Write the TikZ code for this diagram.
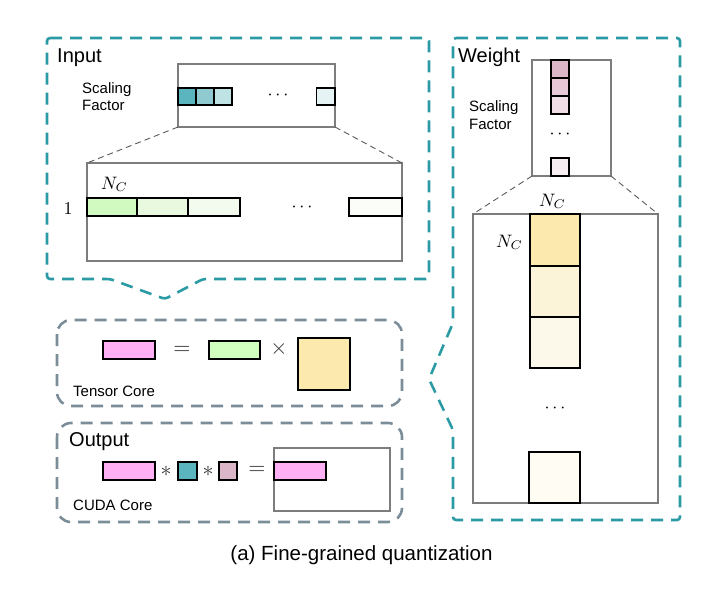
\documentclass[tikz,border=0pt]{standalone}
\usepackage{graphicx}
\usepackage[no-math]{fontspec}
\setmainfont{Liberation Sans}
\definecolor{tealc}{RGB}{42,154,165}
\definecolor{greyc}{RGB}{123,141,153}
\definecolor{framec}{RGB}{125,125,125}
\definecolor{zoomc}{RGB}{90,90,90}
\definecolor{tA}{RGB}{91,181,190}
\definecolor{tB}{RGB}{142,202,208}
\definecolor{tC}{RGB}{191,226,229}
\definecolor{tD}{RGB}{230,243,244}
\definecolor{gA}{RGB}{208,250,192}
\definecolor{gB}{RGB}{232,249,224}
\definecolor{gC}{RGB}{243,251,239}
\definecolor{gD}{RGB}{251,253,248}
\definecolor{mA}{RGB}{219,182,200}
\definecolor{mB}{RGB}{230,200,214}
\definecolor{mC}{RGB}{240,221,230}
\definecolor{mD}{RGB}{247,238,242}
\definecolor{yA}{RGB}{252,233,174}
\definecolor{yB}{RGB}{252,244,216}
\definecolor{yC}{RGB}{253,249,234}
\definecolor{yD}{RGB}{254,252,243}
\definecolor{pinkc}{RGB}{255,176,245}
\definecolor{greenc}{RGB}{208,255,192}
\definecolor{symc}{RGB}{50,50,50}
\newcommand{\mymath}[1]{\scalebox{1.8}{$#1$}}
\newcommand{\mysym}[1]{\scalebox{2.2}{$#1$}}
\tikzset{
  tealbox/.style={draw=tealc, line width=2.6pt, dash pattern=on 12pt off 8pt, rounded corners=3pt},
  greybox/.style={draw=greyc, line width=2.6pt, dash pattern=on 12pt off 8pt, rounded corners=14pt},
  frame/.style={draw=framec, line width=1.2pt, inner sep=0pt, outer sep=0pt, anchor=north west},
  cell/.style={draw=black, line width=1.2pt, inner sep=0pt, outer sep=0pt, anchor=north west},
  zoomline/.style={draw=zoomc, line width=0.9pt, dash pattern=on 6pt off 4pt},
  title/.style={font=\fontsize{20}{24}\selectfont, anchor=base west, inner sep=0pt},
  small/.style={font=\fontsize{15}{17.5}\selectfont, align=left, anchor=west, inner sep=0pt},
  smallb/.style={font=\fontsize{15}{17.5}\selectfont, anchor=base west, inner sep=0pt},
  mathlbl/.style={inner sep=0pt, anchor=base},
  symlbl/.style={inner sep=0pt, anchor=base, text=symc},
}
\begin{document}
\begin{tikzpicture}[x=1pt, y=-1pt]
\useasboundingbox (0,0) rectangle (720,590);

% outer teal dashed regions
\draw[tealbox] (47,38) -- (429,38) -- (429,279) -- (203,279) -- (165,299) -- (110,279) -- (47,279) -- cycle;
\draw[tealbox] (453,38) -- (680,38) -- (680,520) -- (453,520) -- (453,430) -- (429,379) -- (453,323) -- cycle;

% ---------- Input ----------
\node[title] (inputlbl) at (57,62) {Input};
\node[small] (isflbl) at (82,96.5) {Scaling\\Factor};
\node[frame, minimum width=157pt, minimum height=63pt] (isf) at (178,64) {};
\node[cell, fill=tA, minimum width=18pt, minimum height=17pt] (ic1) at (178,88) {};
\node[cell, fill=tB, minimum width=18pt, minimum height=17pt] (ic2) at (196,88) {};
\node[cell, fill=tC, minimum width=18pt, minimum height=17pt] (ic3) at (214,88) {};
\node[cell, fill=tD, minimum width=18.5pt, minimum height=17pt] (ic4) at (316.5,88) {};
\node[mathlbl] (idots1) at (278,99.5) {\mymath{\cdots}};

\node[frame, minimum width=315pt, minimum height=98pt] (ibig) at (87,163) {};
\draw[zoomline] (isf.south west) -- (ibig.north west);
\draw[zoomline] (isf.south east) -- (ibig.north east);
\node[cell, fill=gA, minimum width=50pt, minimum height=18pt] (ig1) at (87,198) {};
\node[cell, fill=gB, minimum width=51pt, minimum height=18pt] (ig2) at (137,198) {};
\node[cell, fill=gC, minimum width=52pt, minimum height=18pt] (ig3) at (188,198) {};
\node[cell, fill=gD, minimum width=53pt, minimum height=18pt] (ig4) at (349,198) {};
\node[mathlbl] (ione) at (68,214) {\mymath{1}};
\node[mathlbl, anchor=base west] (inc) at (101,189) {\mymath{N_C}};
\node[mathlbl] (idots2) at (302,211.5) {\mymath{\cdots}};

% ---------- Weight ----------
\node[title] (weightlbl) at (458,62) {Weight};
\node[small] (wsflbl) at (469,115) {Scaling\\Factor};
\node[frame, minimum width=79pt, minimum height=116pt] (wsf) at (532,60) {};
\node[cell, fill=mA, minimum width=18pt, minimum height=18pt] (wc1) at (551,60) {};
\node[cell, fill=mB, minimum width=18pt, minimum height=18pt] (wc2) at (551,78) {};
\node[cell, fill=mC, minimum width=18pt, minimum height=18pt] (wc3) at (551,96) {};
\node[cell, fill=mD, minimum width=18pt, minimum height=18pt] (wc4) at (551,158) {};
\node[mathlbl] (wdots1) at (560,138.5) {\mymath{\cdots}};

\node[frame, minimum width=185pt, minimum height=289pt] (wbig) at (473,214) {};
\draw[zoomline] (wsf.south west) -- (wbig.north west);
\draw[zoomline] (wsf.south east) -- (wbig.north east);
\node[cell, fill=yA, minimum width=50pt, minimum height=52pt] (wy1) at (530,214) {};
\node[cell, fill=yB, minimum width=50pt, minimum height=51pt] (wy2) at (530,266) {};
\node[cell, fill=yC, minimum width=50pt, minimum height=51pt] (wy3) at (530,317) {};
\node[cell, fill=yD, minimum width=51pt, minimum height=51pt] (wy4) at (529,452) {};
\node[mathlbl, anchor=base west] (wnctop) at (539,206) {\mymath{N_C}};
\node[mathlbl, anchor=base west] (wncleft) at (496,247) {\mymath{N_C}};
\node[mathlbl] (wdots2) at (555,412.5) {\mymath{\cdots}};

% ---------- Tensor Core ----------
\draw[greybox] (57,320) rectangle (402,406);
\node[cell, fill=pinkc, minimum width=52pt, minimum height=18pt] (tp) at (103,341) {};
\node[symlbl] (teq) at (182,354.5) {\mysym{=}};
\node[cell, fill=greenc, minimum width=51pt, minimum height=18pt] (tg) at (209,341) {};
\node[symlbl] (ttimes) at (279,354.5) {\mysym{\times}};
\node[cell, fill=yA, minimum width=52pt, minimum height=52pt] (ty) at (298,338) {};
\node[smallb] (tensorlbl) at (73,396) {Tensor Core};

% ---------- Output ----------
\draw[greybox] (57,423) rectangle (402,522);
\node[title] (outputlbl) at (69,446) {Output};
\node[cell, fill=pinkc, minimum width=52pt, minimum height=18pt] (op) at (103,462) {};
\node[symlbl] (oast1) at (166,476.5) {\mysym{*}};
\node[cell, fill=tA, minimum width=19pt, minimum height=18pt] (ot) at (178,462) {};
\node[symlbl] (oast2) at (208,476.5) {\mysym{*}};
\node[cell, fill=mA, minimum width=18pt, minimum height=18pt] (om) at (219,462) {};
\node[symlbl] (oeq) at (257,474.5) {\mysym{=}};
\node[frame, minimum width=116pt, minimum height=63pt] (oframe) at (274,448) {};
\node[cell, fill=pinkc, minimum width=52pt, minimum height=18pt] (opres) at (274,462) {};
\node[smallb] (cudalbl) at (73,510) {CUDA Core};

% caption
\node[font=\fontsize{20.5}{24}\selectfont, anchor=base, inner sep=0pt] (caption) at (361.5,560) {(a) Fine-grained quantization};
\end{tikzpicture}
\end{document}
